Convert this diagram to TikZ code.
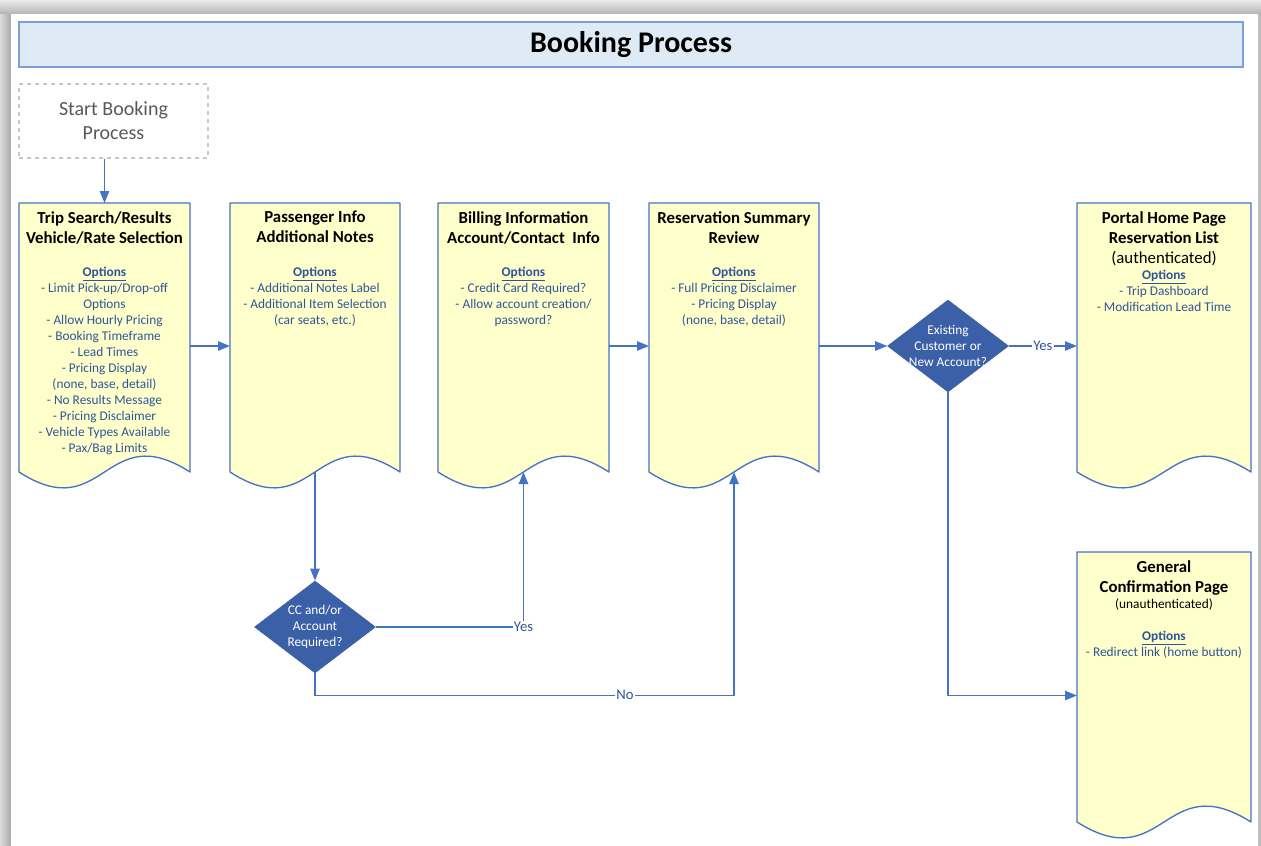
\documentclass[tikz,border=0pt]{standalone}
\usepackage{fontspec}
\setmainfont{Carlito}
\usepackage{tikz}
\usetikzlibrary{calc,arrows.meta,shapes.geometric}
\definecolor{frame}{HTML}{4472C4}
\definecolor{pagefill}{HTML}{FFFFCC}
\definecolor{titlefill}{HTML}{DEEBF7}
\definecolor{titleline}{HTML}{7F9FD9}
\definecolor{optblue}{HTML}{2F5597}
\definecolor{decfill}{HTML}{3B60A8}
\definecolor{startgray}{HTML}{595959}
\definecolor{dashgray}{HTML}{C8C8C8}
\tikzset{
  page/.style={rectangle, inner sep=0pt, outer sep=0pt, anchor=north west, minimum height=286*0.75pt},
  pageline/.style={draw=frame, fill=pagefill, line width=1pt, line join=round},
  hd/.style={anchor=north, inner sep=0pt, align=center, text=black, font=\fontsize{12.6}{15}\selectfont\bfseries},
  opt/.style={anchor=north, inner sep=0pt, align=center, text=optblue, font=\fontsize{10}{12}\selectfont},
  dec/.style={diamond, fill=decfill, draw=decfill, inner sep=0pt,
    minimum width=121*0.75pt, minimum height=92*0.75pt},
  dectxt/.style={inner sep=0pt, text=white, align=center, font=\fontsize{10}{12}\selectfont},
  flow/.style={draw=frame, line width=1.1pt, -{Triangle[length=9pt,width=7pt]}},
  lbl/.style={fill=white, inner sep=1pt, text=optblue, font=\fontsize{11}{13}\selectfont},
  titlebox/.style={draw=titleline, fill=titlefill, line width=1pt, inner sep=0pt,
    minimum width=1224*0.75pt, minimum height=45*0.75pt, font=\fontsize{22.5}{26}\selectfont\bfseries},
  startbox/.style={draw=dashgray, dashed, line width=1pt, inner sep=0pt, align=center, text=startgray,
    minimum width=189*0.75pt, minimum height=74*0.75pt, font=\fontsize{15}{18}\selectfont},
}
\newcommand\opts{\textbf{\underline{Options}}}
% document shape with wavy bottom, drawn round an empty node
\newcommand\docpage[1]{%
  \draw[pageline] ($(#1.south west)+(0,-17)$) -- (#1.north west) -- (#1.north east)
    -- ($(#1.south east)+(0,-17)$)
    .. controls ($(#1.south)+(0,-72)$) and ($(#1.south)+(0,38)$)
    .. ($(#1.south west)+(0,-17)$) -- cycle;}

\begin{document}
\begin{tikzpicture}[x=0.75pt, y=-0.75pt]
  \useasboundingbox (0,0) rectangle (1261,846);

  % screenshot frame
  \fill[black!25] (0,0) rectangle (1261,846);
  \shade[top color=black!8, bottom color=black!30] (0,0) rectangle (1261,14);
  \shade[left color=black!14, right color=black!34] (0,14) rectangle (11,846);
  \fill[white] (11,14) rectangle (1258,846);

  \node[titlebox] (title) at (631,44.5) {Booking Process};
  \node[startbox] (start) at (113.5,121) {Start Booking\\Process};

  % pages
  \node[page, minimum width=171*0.75pt] (trip) at (19,203) {};
  \node[page, minimum width=170*0.75pt] (pax) at (230,203) {};
  \node[page, minimum width=171*0.75pt] (bill) at (438,203) {};
  \node[page, minimum width=170*0.75pt] (resv) at (649,203) {};
  \node[page, minimum width=174*0.75pt] (portal) at (1077,203) {};
  \node[page, minimum width=174*0.75pt, minimum height=287*0.75pt] (conf) at (1077,552) {};
  \docpage{trip}
  \docpage{pax}
  \docpage{bill}
  \docpage{resv}
  \docpage{portal}
  \docpage{conf}

  \node[hd] (triphd) at ($(trip.north)+(0,8)$) {Trip Search/Results\\Vehicle/Rate Selection};
  \node[opt] (tripopt) at ($(trip.north)+(0,64)$) {\opts\\- Limit Pick-up/Drop-off\\Options\\
    - Allow Hourly Pricing\\- Booking Timeframe\\- Lead Times\\- Pricing Display\\(none, base, detail)\\
    - No Results Message\\- Pricing Disclaimer\\- Vehicle Types Available\\- Pax/Bag Limits};

  \node[hd] (paxhd) at ($(pax.north)+(0,8)$) {Passenger Info\\Additional Notes};
  \node[opt] (paxopt) at ($(pax.north)+(0,64)$) {\opts\\- Additional Notes Label\\
    - Additional Item Selection\\(car seats, etc.)};

  \node[hd] (billhd) at ($(bill.north)+(0,8)$) {Billing Information\\Account/Contact\ \ Info};
  \node[opt] (billopt) at ($(bill.north)+(0,64)$) {\opts\\- Credit Card Required?\\
    - Allow account creation/\\password?};

  \node[hd] (resvhd) at ($(resv.north)+(0,8)$) {Reservation Summary\\Review};
  \node[opt] (resvopt) at ($(resv.north)+(0,64)$) {\opts\\- Full Pricing Disclaimer\\
    - Pricing Display\\(none, base, detail)};

  \node[hd] (portalhd) at ($(portal.north)+(0,8)$) {Portal Home Page\\Reservation List\\\mdseries(authenticated)};
  \node[opt] (portalopt) at ($(portal.north)+(0,67)$) {\opts\\- Trip Dashboard\\- Modification Lead Time};

  \node[hd] (confhd) at ($(conf.north)+(0,8)$) {General\\Confirmation Page};
  \node[opt] (confopt) at ($(conf.north)+(0,46)$) {{\color{black}(unauthenticated)}\\[12pt]
    \opts\\- Redirect link (home button)};

  % decisions
  \node[dec, label={[dectxt]center:Existing\\Customer or\\New Account?}] (exist) at (948,346) {};
  \node[dec, label={[dectxt]center:CC and/or\\Account\\Required?}] (cc) at (315,627) {};

  % connectors
  \draw[flow] (start.south -| trip.north) -- (trip.north);
  \draw[flow] (trip.east) -- (pax.west);
  \draw[flow] (bill.east) -- (resv.west);
  \draw[flow] (resv.east) -- (exist.west);
  \draw[flow] (exist.east) -- node[lbl] {Yes} (portal.west);
  \draw[flow] (exist.south) |- (conf.west);
  \draw[flow] ($(pax.south)+(0,-17)$) -- (cc.north);
  \draw[flow] (cc.east) -| node[lbl, pos=0.5] {Yes} ($(bill.south)+(0,-17)$);
  \draw[flow] (cc.south) -- ++(0,22) -| node[lbl, pos=0.37] {No} ($(resv.south)+(0,-17)$);
\end{tikzpicture}
\end{document}
